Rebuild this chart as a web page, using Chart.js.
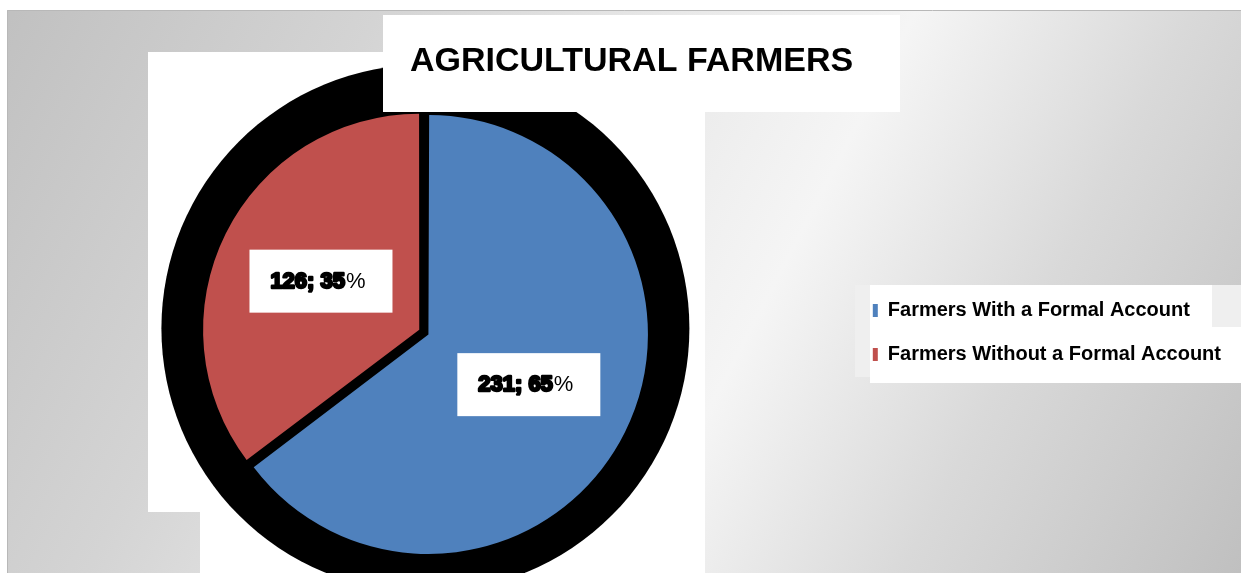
<!DOCTYPE html>
<html>
<head>
<meta charset="utf-8">
<title>Agricultural Farmers</title>
<script src="https://cdn.jsdelivr.net/npm/chart.js@4.4.1/dist/chart.umd.min.js"></script>
<style>
  html, body { margin: 0; padding: 0; background: #fff; }
  #wrap { width: 1241px; height: 573px; }
</style>
</head>
<body>
<div id="wrap"><canvas id="myChart" width="1241" height="573"></canvas></div>
<script>
// Data
const labels = ["Farmers With a Formal Account", "Farmers Without a Formal Account"];
const counts = [231, 126];
const colors = ["#4F81BD", "#C0504D"];
const chartTitle = "AGRICULTURAL FARMERS";

const FONT = "'Liberation Sans', Arial, sans-serif";

// white boxes that sit behind the chart parts (decoration only)
const titleBox = { x: 383, y: 15, w: 517, h: 97 };

// Background: grey gradient frame plus the white panels
const backdrop = {
  id: 'backdrop',
  beforeDraw(chart) {
    const ctx = chart.ctx;
    const W = chart.width, H = chart.height;
    ctx.save();
    ctx.fillStyle = '#fff';
    ctx.fillRect(0, 0, W, H);

    let g = ctx.createLinearGradient(0, 0, 1210, 629);
    g.addColorStop(0, '#c0c0c0');
    g.addColorStop(0.25, '#d4d4d4');
    g.addColorStop(0.45, '#e9e9e9');
    g.addColorStop(0.6, '#f5f5f5');
    g.addColorStop(0.78, '#d9d9d9');
    g.addColorStop(1, '#c0c0c0');
    ctx.fillStyle = g;
    ctx.fillRect(7, 10, W - 7, H - 10);
    ctx.strokeStyle = '#b8b8b8';
    ctx.lineWidth = 1;
    ctx.beginPath();
    ctx.moveTo(7.5, H); ctx.lineTo(7.5, 10.5); ctx.lineTo(W, 10.5);
    ctx.stroke();

    // white panels behind the pie
    ctx.fillStyle = '#fff';
    ctx.fillRect(148, 52, 557, 460);
    ctx.fillRect(200, 112, 505, H - 112);
    ctx.fillRect(titleBox.x, titleBox.y, titleBox.w, titleBox.h);

    // legend panels
    ctx.fillStyle = '#efefef';
    ctx.fillRect(855, 285, W - 855, 92);
    ctx.fillStyle = '#fff';
    ctx.fillRect(870, 285, 342, 42);
    ctx.fillRect(870, 327, W - 870, 56);
    ctx.restore();
  }
};

// Black "shadow" disc behind the pie
const shadowDisc = {
  id: 'shadowDisc',
  beforeDatasetsDraw(chart) {
    const arc = chart.getDatasetMeta(0).data[0];
    if (!arc) return;
    const ctx = chart.ctx;
    ctx.save();
    ctx.beginPath();
    ctx.rect(0, 0, chart.width, chart.height);
    ctx.rect(titleBox.x, titleBox.y, titleBox.w, titleBox.h);
    ctx.clip('evenodd');
    ctx.fillStyle = '#000';
    ctx.beginPath();
    ctx.arc(arc.x + 1, arc.y - 4, arc.outerRadius + 49, 0, Math.PI * 2);
    ctx.fill();
    ctx.restore();
  }
};

// Value labels "n; p%" in white boxes
const valueLabels = {
  id: 'valueLabels',
  afterDatasetsDraw(chart) {
    const ctx = chart.ctx;
    const meta = chart.getDatasetMeta(0);
    const data = chart.data.datasets[0].data;
    const total = data.reduce((a, b) => a + b, 0);
    ctx.save();
    meta.data.forEach((arc, i) => {
      const mid = (arc.startAngle + arc.endAngle) / 2;
      const dist = arc.outerRadius * 0.54;
      const px = arc.x + Math.cos(mid) * dist;
      const py = arc.y + Math.sin(mid) * dist;
      ctx.fillStyle = '#fff';
      ctx.fillRect(px - 71, py - 31, 143, 63);

      const boldPart = data[i] + '; ' + Math.round(data[i] / total * 100);
      const boldFont = 'bold 22px ' + FONT;
      const normFont = '22px ' + FONT;
      ctx.font = boldFont;
      const w1 = ctx.measureText(boldPart).width;
      ctx.font = normFont;
      const w2 = ctx.measureText('%').width;
      let x = px - (w1 + w2) / 2 - 3;
      const y = py + 7;
      ctx.textBaseline = 'alphabetic';
      ctx.textAlign = 'left';
      ctx.font = boldFont;
      ctx.lineJoin = 'round';
      ctx.lineWidth = 2.5;
      ctx.strokeStyle = '#000';
      ctx.strokeText(boldPart, x, y);
      ctx.fillStyle = '#000';
      ctx.fillText(boldPart, x, y);
      ctx.font = normFont;
      ctx.fillText('%', x + w1 + 1, y);
    });
    ctx.restore();
  }
};

// nudge the title so it sits inside its white box
const titleNudge = {
  id: 'titleNudge',
  afterLayout(chart) {
    if (chart.titleBlock) {
      chart.titleBlock.left += 16;
      chart.titleBlock.right += 16;
    }
  }
};

const ctx = document.getElementById('myChart').getContext('2d');
const myChart = new Chart(ctx, {
  type: 'pie',
  data: {
    labels: labels,
    datasets: [{
      data: counts,
      backgroundColor: colors,
      borderWidth: 0,
      offset: [18, 23],
      hoverOffset: 0,
      radius: 215
    }]
  },
  options: {
    responsive: false,
    animation: false,
    events: [],
    layout: { padding: { left: 0, right: 10, top: 0, bottom: 0 } },
    plugins: {
      title: {
        display: true,
        text: chartTitle,
        color: '#000',
        font: { family: FONT, size: 34, weight: 'bold' },
        padding: { top: 41, bottom: 10 }
      },
      legend: {
        position: 'right',
        fullSize: false,
        labels: {
          boxWidth: 5,
          boxHeight: 13,
          padding: 24,
          color: '#000',
          font: { family: FONT, size: 20, weight: 'bold' }
        }
      },
      tooltip: { enabled: false }
    }
  },
  plugins: [backdrop, shadowDisc, valueLabels, titleNudge]
});
</script>
</body>
</html>
